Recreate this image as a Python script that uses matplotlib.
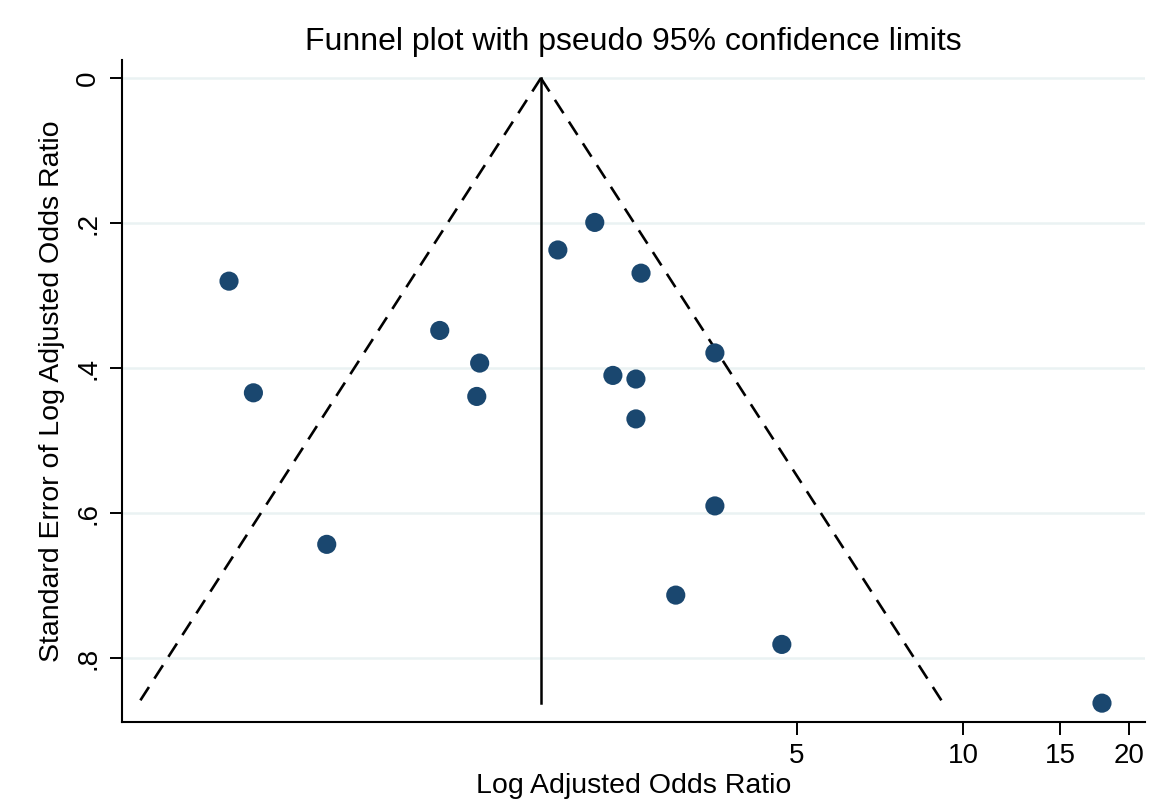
import numpy as np
import matplotlib
matplotlib.use("Agg")
import matplotlib.pyplot as plt
from matplotlib.ticker import FixedLocator, NullLocator

plt.rcParams['font.family'] = ['Liberation Sans', 'DejaVu Sans']

# Adjusted odds ratios (plotted on log scale) and their standard errors
odds_ratio = [0.466, 0.516, 0.701, 1.124, 1.328, 1.312, 1.841, 2.148, 2.606,
              2.317, 2.551, 2.551, 3.548, 3.548, 3.013, 4.693, 17.88]
std_err = [0.280, 0.434, 0.643, 0.348, 0.393, 0.439, 0.237, 0.199, 0.269,
           0.410, 0.415, 0.470, 0.379, 0.590, 0.713, 0.781, 0.862]

pooled_or = 1.715
x_ticks = [5, 10, 15, 20]
y_ticks = [0, 0.2, 0.4, 0.6, 0.8]
y_labels = ['0', '.2', '.4', '.6', '.8']

fig = plt.figure(figsize=(11.68, 8.08), dpi=100)
ax = fig.add_axes([122 / 1168, 1 - 722 / 808, (1145 - 122) / 1168, (722 - 60) / 808])

# funnel (pseudo 95% limits)
se_max = max(std_err)
se_line = np.array([0, se_max])
log_c = np.log(pooled_or)
ax.plot(np.exp(log_c - 1.95 * se_line), se_line, color='black', lw=1.9,
        dashes=(6, 3.8), zorder=2)
ax.plot(np.exp(log_c + 1.95 * se_line), se_line, color='black', lw=1.9,
        dashes=(6, 3.8), zorder=2)
ax.plot([pooled_or, pooled_or], se_line, color='black', lw=1.8, zorder=2)

ax.scatter(odds_ratio, std_err, s=190, color='#1a476f', edgecolors='none', zorder=3)

ax.set_xscale('log')
ax.set_xlim(0.298, 21.4)
ax.set_ylim(0.888, -0.025)

ax.xaxis.set_major_locator(FixedLocator(x_ticks))
ax.xaxis.set_minor_locator(NullLocator())
ax.set_xticklabels([str(t) for t in x_ticks])
ax.set_yticks(y_ticks)
ax.set_yticklabels(y_labels, rotation=90, va='center')

ax.grid(axis='y', color='#eaf2f3', lw=1.8, zorder=0)
ax.set_axisbelow(True)
for s in ['top', 'right']:
    ax.spines[s].set_visible(False)
for s in ['left', 'bottom']:
    ax.spines[s].set_linewidth(1.5)
ax.tick_params(axis='both', length=9, width=1.4, labelsize=20, pad=6)

ax.set_xlabel('Log Adjusted Odds Ratio', fontsize=20.5, labelpad=3)
ax.set_ylabel('Standard Error of Log Adjusted Odds Ratio', fontsize=20.5, labelpad=7)
ax.set_title('Funnel plot with pseudo 95% confidence limits', fontsize=23, pad=7)

fig.savefig('out.png', dpi=100, facecolor='white')
